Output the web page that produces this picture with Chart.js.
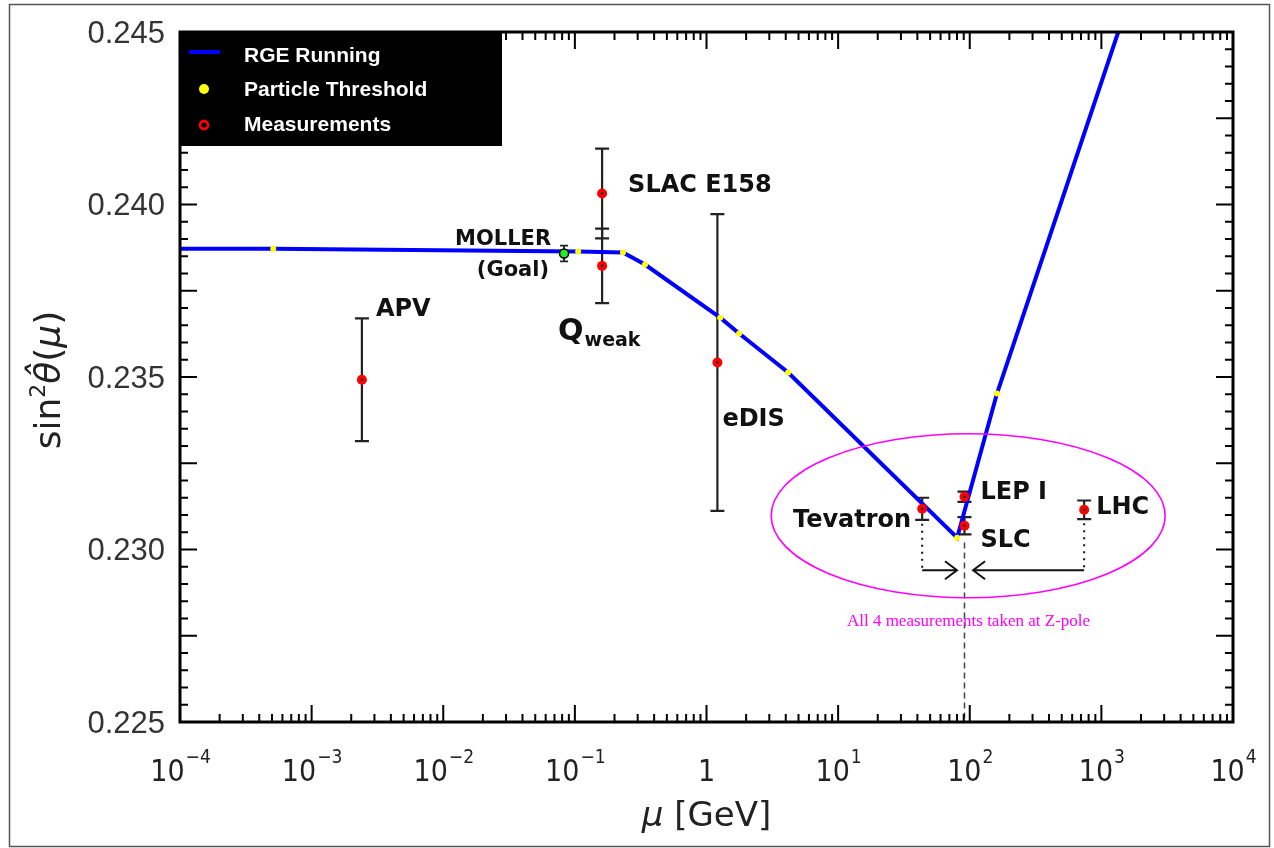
<!DOCTYPE html>
<html>
<head>
<meta charset="utf-8">
<script src="https://cdn.jsdelivr.net/npm/chart.js@4.4.1/dist/chart.umd.min.js"></script>
<style>
html, body { margin: 0; padding: 0; background: #fff; overflow: hidden; }
#wrap { position: relative; width: 1274px; height: 848px; }
</style>
</head>
<body>
<div id="wrap"><canvas id="myChart"></canvas></div>
<script>
// RGE running of sin^2 theta_W
const rgeMu  = [1e-4, 5.11e-4, 0.106, 0.232, 0.341, 1.27, 1.77, 4.17, 80.2, 161, 1343];
const rgeVal = [0.23872, 0.23872, 0.23864, 0.23861, 0.23826, 0.23672, 0.23626, 0.23513, 0.23034, 0.23452, 0.245];

// particle thresholds sitting on the curve
const thrMu  = [5.11e-4, 0.106, 0.232, 0.341, 1.27, 1.77, 4.17, 80.2, 161];
const thrVal = [0.23872, 0.23864, 0.23861, 0.23826, 0.23672, 0.23626, 0.23513, 0.23034, 0.23452];

// measurements
const measNames = ['APV', 'Qweak', 'SLAC E158', 'eDIS', 'Tevatron', 'LEP I', 'SLC', 'LHC'];
const measMu  = [0.00241, 0.161, 0.161, 1.21, 43.5, 91.2, 91.2, 740];
const measVal = [0.23492, 0.23822, 0.24032, 0.23542, 0.23118, 0.23153, 0.23069, 0.23115];
const measErr = [0.00178, 0.00108, 0.0013, 0.0043, 0.00032, 0.00015, 0.00025, 0.00027];

// MOLLER projected goal
const mollerMu  = [0.0828];
const mollerVal = [0.23858];
const mollerErr = [0.00023];

// Z pole marker and arrows
const zPoleMu = 91.2;
const arrowVal = 0.2294;
const arrowFrom = [43.5, 740];
const arrowTo = [80, 106];
const ellipseMu = 97.3;
const ellipseVal = 0.23098;
const noteVal = 0.2279;

// axis ticks
const xTicks = [1e-4, 1e-3, 1e-2, 1e-1, 1, 1e1, 1e2, 1e3, 1e4];
const xTickExp = ['\u22124', '\u22123', '\u22122', '\u22121', '', '1', '2', '3', '4'];
const yTicks = [0.225, 0.230, 0.235, 0.240, 0.245];
const yTickLabels = ['0.225', '0.230', '0.235', '0.240', '0.245'];

// label placement relative to each measurement point (pixels)
const labelLayout = {
    'APV':       { dx: 14,  dy: -70, align: 'left' },
    'SLAC E158': { dx: 26,  dy: -8,  align: 'left' },
    'eDIS':      { dx: 5,   dy: 57,  align: 'left' },
    'Tevatron':  { dx: -11, dy: 12,  align: 'right' },
    'LEP I':     { dx: 16,  dy: -4,  align: 'left' },
    'SLC':       { dx: 16,  dy: 15,  align: 'left' },
    'LHC':       { dx: 12,  dy: -2,  align: 'left' }
};

const toPts = (xs, ys) => xs.map((m, i) => ({ x: m, y: ys[i] }));

function errBar(c, px, top, bot, cap) {
    c.beginPath();
    c.moveTo(px, top); c.lineTo(px, bot);
    c.moveTo(px - cap, top); c.lineTo(px + cap, top);
    c.moveTo(px - cap, bot); c.lineTo(px + cap, bot);
    c.stroke();
}

function arrow(c, x1, y, x2) {
    const dir = x2 > x1 ? 1 : -1;
    c.beginPath();
    c.moveTo(x1, y); c.lineTo(x2, y);
    c.moveTo(x2 - dir * 12, y - 9); c.lineTo(x2, y); c.lineTo(x2 - dir * 12, y + 9);
    c.stroke();
}

const overlay = {
    id: 'overlay',
    beforeDatasetsDraw(chart) {
        const c = chart.ctx, xs = chart.scales.x, ys = chart.scales.y;
        c.save();
        c.strokeStyle = '#222';
        c.lineWidth = 2.2;
        measMu.forEach((m, i) => {
            const px = xs.getPixelForValue(m);
            errBar(c, px, ys.getPixelForValue(measVal[i] + measErr[i]), ys.getPixelForValue(measVal[i] - measErr[i]), 7);
        });
        c.lineWidth = 1.8;
        mollerMu.forEach((m, i) => {
            const px = xs.getPixelForValue(m);
            errBar(c, px, ys.getPixelForValue(mollerVal[i] + mollerErr[i]), ys.getPixelForValue(mollerVal[i] - mollerErr[i]), 4);
        });
        c.restore();
    },
    afterDatasetsDraw(chart) {
        const c = chart.ctx, xs = chart.scales.x, ys = chart.scales.y, a = chart.chartArea;
        c.save();
        // dark centers of the measurement dots
        c.fillStyle = '#222';
        measMu.forEach((m, i) => {
            c.beginPath();
            c.arc(xs.getPixelForValue(m), ys.getPixelForValue(measVal[i]), 1.3, 0, Math.PI * 2);
            c.fill();
        });

        // Z pole dashed line
        const zx = xs.getPixelForValue(zPoleMu);
        c.strokeStyle = '#444';
        c.lineWidth = 1.5;
        c.setLineDash([6, 4]);
        c.beginPath();
        c.moveTo(zx, ys.getPixelForValue(0.2302)); c.lineTo(zx, a.bottom);
        c.stroke();

        // dotted drops and arrows
        const ay = ys.getPixelForValue(arrowVal);
        c.setLineDash([2, 5]);
        c.strokeStyle = '#111';
        c.lineWidth = 2;
        arrowFrom.forEach((m) => {
            const px = xs.getPixelForValue(m);
            const vi = measMu.indexOf(m);
            c.beginPath();
            c.moveTo(px, ys.getPixelForValue(measVal[vi] - measErr[vi]) + 4); c.lineTo(px, ay);
            c.stroke();
        });
        c.setLineDash([]);
        c.lineWidth = 2;
        arrowFrom.forEach((m, i) => arrow(c, xs.getPixelForValue(m), ay, xs.getPixelForValue(arrowTo[i])));

        // magenta ellipse and note
        c.strokeStyle = '#ff00ff';
        c.lineWidth = 1.6;
        c.beginPath();
        c.ellipse(xs.getPixelForValue(ellipseMu), ys.getPixelForValue(ellipseVal), 197, 82, 0, 0, Math.PI * 2);
        c.stroke();
        c.fillStyle = '#ff00ff';
        c.font = '17px "Liberation Serif", serif';
        c.textAlign = 'center';
        c.textBaseline = 'middle';
        c.fillText('All 4 measurements taken at Z-pole', zx + 4, ys.getPixelForValue(noteVal));

        // measurement labels
        c.fillStyle = '#111';
        c.textBaseline = 'middle';
        c.font = 'bold 24px "DejaVu Sans", sans-serif';
        measNames.forEach((n, i) => {
            const L = labelLayout[n];
            if (!L) return;
            c.textAlign = L.align;
            c.fillText(n, xs.getPixelForValue(measMu[i]) + L.dx, ys.getPixelForValue(measVal[i]) + L.dy);
        });
        // Q_weak with subscript
        const qi = measNames.indexOf('Qweak');
        const qx = xs.getPixelForValue(measMu[qi]) - 44, qy = ys.getPixelForValue(measVal[qi]) + 66;
        c.textAlign = 'left';
        c.font = 'bold 30px "DejaVu Sans", sans-serif';
        c.fillText('Q', qx, qy);
        const qw = c.measureText('Q').width;
        c.font = 'bold 19px "DejaVu Sans", sans-serif';
        c.fillText('weak', qx + qw + 1, qy + 9);
        // MOLLER (Goal)
        const mx = xs.getPixelForValue(mollerMu[0]), my = ys.getPixelForValue(mollerVal[0]);
        c.textAlign = 'right';
        c.font = 'bold 21px "DejaVu Sans", sans-serif';
        c.fillText('MOLLER', mx - 13, my - 14);
        c.fillText('(Goal)', mx - 15, my + 17);

        // frame
        c.strokeStyle = '#000';
        c.lineWidth = 3;
        c.strokeRect(a.left, a.top, a.right - a.left, a.bottom - a.top);

        // inward ticks
        c.lineWidth = 2;
        c.beginPath();
        for (let k = 0; k <= 40; k++) {
            const v = 0.225 + k * 0.0005;
            const py = ys.getPixelForValue(v);
            const len = k % 5 === 0 ? 17 : 8;
            c.moveTo(a.left, py); c.lineTo(a.left + len, py);
            c.moveTo(a.right, py); c.lineTo(a.right - len, py);
        }
        for (let e = -4; e <= 4; e++) {
            for (let m = 1; m <= 9; m++) {
                if (e === 4 && m > 1) break;
                const px = xs.getPixelForValue(m * Math.pow(10, e));
                const len = m === 1 ? 17 : 8;
                c.moveTo(px, a.bottom); c.lineTo(px, a.bottom - len);
                c.moveTo(px, a.top); c.lineTo(px, a.top + len);
            }
        }
        c.stroke();

        // legend
        c.fillStyle = '#000';
        c.fillRect(179, 31, 323, 115);
        c.strokeStyle = 'rgb(0,0,255)';
        c.lineWidth = 4;
        c.beginPath(); c.moveTo(189, 52); c.lineTo(220, 52); c.stroke();
        c.fillStyle = '#ffff00';
        c.beginPath(); c.arc(204, 89, 5, 0, Math.PI * 2); c.fill();
        c.strokeStyle = '#ff0000';
        c.lineWidth = 2.8;
        c.beginPath(); c.arc(204, 125, 4, 0, Math.PI * 2); c.stroke();
        c.fillStyle = '#fff';
        c.textAlign = 'left';
        c.textBaseline = 'middle';
        c.font = 'bold 21px "Liberation Sans", Arial, sans-serif';
        c.fillText('RGE Running', 244, 56);
        c.fillText('Particle Threshold', 244, 90);
        c.fillText('Measurements', 244, 125);
        c.restore();
    },
    afterDraw(chart) {
        const c = chart.ctx, xs = chart.scales.x, ys = chart.scales.y, a = chart.chartArea;
        c.save();
        // y tick labels
        c.fillStyle = '#333';
        c.textAlign = 'right';
        c.textBaseline = 'middle';
        c.font = '31px "Liberation Sans", Arial, sans-serif';
        yTicks.forEach((v, i) => c.fillText(yTickLabels[i], 165, ys.getPixelForValue(v) + 2));

        // x tick labels with superscripts
        c.fillStyle = '#222';
        c.textBaseline = 'alphabetic';
        c.textAlign = 'left';
        xTicks.forEach((v, i) => {
            const px = xs.getPixelForValue(v);
            const base = xTickExp[i] === '' ? '1' : '10';
            c.font = '30px "DejaVu Sans Condensed", "DejaVu Sans", sans-serif';
            const bw = c.measureText(base).width;
            c.font = '19px "DejaVu Sans Condensed", "DejaVu Sans", sans-serif';
            const sw = xTickExp[i] ? c.measureText(xTickExp[i]).width : 0;
            const x0 = px - (bw + sw) / 2;
            c.font = '30px "DejaVu Sans Condensed", "DejaVu Sans", sans-serif';
            c.fillText(base, x0, 781);
            if (xTickExp[i]) {
                c.font = '19px "DejaVu Sans Condensed", "DejaVu Sans", sans-serif';
                c.fillText(xTickExp[i], x0 + bw + 1, 763);
            }
        });

        // x axis title
        c.font = 'italic 34px "DejaVu Sans", sans-serif';
        const mu = '\u03BC';
        const w1 = c.measureText(mu).width;
        c.font = '34px "DejaVu Sans", sans-serif';
        const w2 = c.measureText(' [GeV]').width;
        const tx = (a.left + a.right) / 2 - (w1 + w2) / 2;
        c.fillStyle = '#222';
        c.font = 'italic 34px "DejaVu Sans", sans-serif';
        c.fillText(mu, tx, 826);
        c.font = '34px "DejaVu Sans", sans-serif';
        c.fillText(' [GeV]', tx + w1, 826);

        // y axis title
        c.translate(60, 380);
        c.rotate(-Math.PI / 2);
        const parts = [
            ['sin', '36px "DejaVu Sans", sans-serif', 0],
            ['2', '22px "DejaVu Sans", sans-serif', -15],
            ['\u03B8\u0302', 'italic 36px "DejaVu Sans", sans-serif', 0],
            ['(', '36px "DejaVu Sans", sans-serif', 0],
            ['\u03BC', 'italic 36px "DejaVu Sans", sans-serif', 0],
            [')', '36px "DejaVu Sans", sans-serif', 0]
        ];
        let total = 0;
        parts.forEach(p => { c.font = p[1]; total += c.measureText(p[0]).width; });
        let cx = -total / 2;
        parts.forEach(p => {
            c.font = p[1];
            c.fillText(p[0], cx, p[2]);
            cx += c.measureText(p[0]).width;
        });
        c.restore();

        // outer picture border
        c.save();
        c.strokeStyle = '#555';
        c.lineWidth = 1.5;
        c.strokeRect(9.5, 4.5, 1260, 842);
        c.restore();
    }
};

const ctx = document.getElementById('myChart');
const myChart = new Chart(ctx, {
    type: 'scatter',
    data: {
        datasets: [
            {
                label: 'MOLLER',
                data: toPts(mollerMu, mollerVal),
                pointRadius: 4.5,
                pointBackgroundColor: '#22ee22',
                pointBorderColor: '#000',
                pointBorderWidth: 1.5,
                order: 1
            },
            {
                label: 'Measurements',
                data: toPts(measMu, measVal),
                pointRadius: 5,
                pointBackgroundColor: '#ff0000',
                pointBorderWidth: 0,
                order: 2
            },
            {
                label: 'Particle Threshold',
                data: toPts(thrMu, thrVal),
                pointRadius: 3,
                pointBackgroundColor: '#ffff00',
                pointBorderWidth: 0,
                order: 3
            },
            {
                label: 'RGE Running',
                data: toPts(rgeMu, rgeVal),
                showLine: true,
                borderColor: 'rgb(0, 0, 255)',
                borderWidth: 4,
                pointRadius: 0,
                tension: 0,
                order: 4
            }
        ]
    },
    options: {
        responsive: true,
        maintainAspectRatio: false,
        animation: false,
        layout: { padding: { left: 180, right: 41, top: 32, bottom: 126 } },
        plugins: { legend: { display: false }, tooltip: { enabled: false } },
        scales: {
            x: { type: 'logarithmic', min: 1e-4, max: 1e4, display: false },
            y: { type: 'linear', min: 0.225, max: 0.245, display: false }
        }
    },
    plugins: [overlay]
});
</script>
</body>
</html>
